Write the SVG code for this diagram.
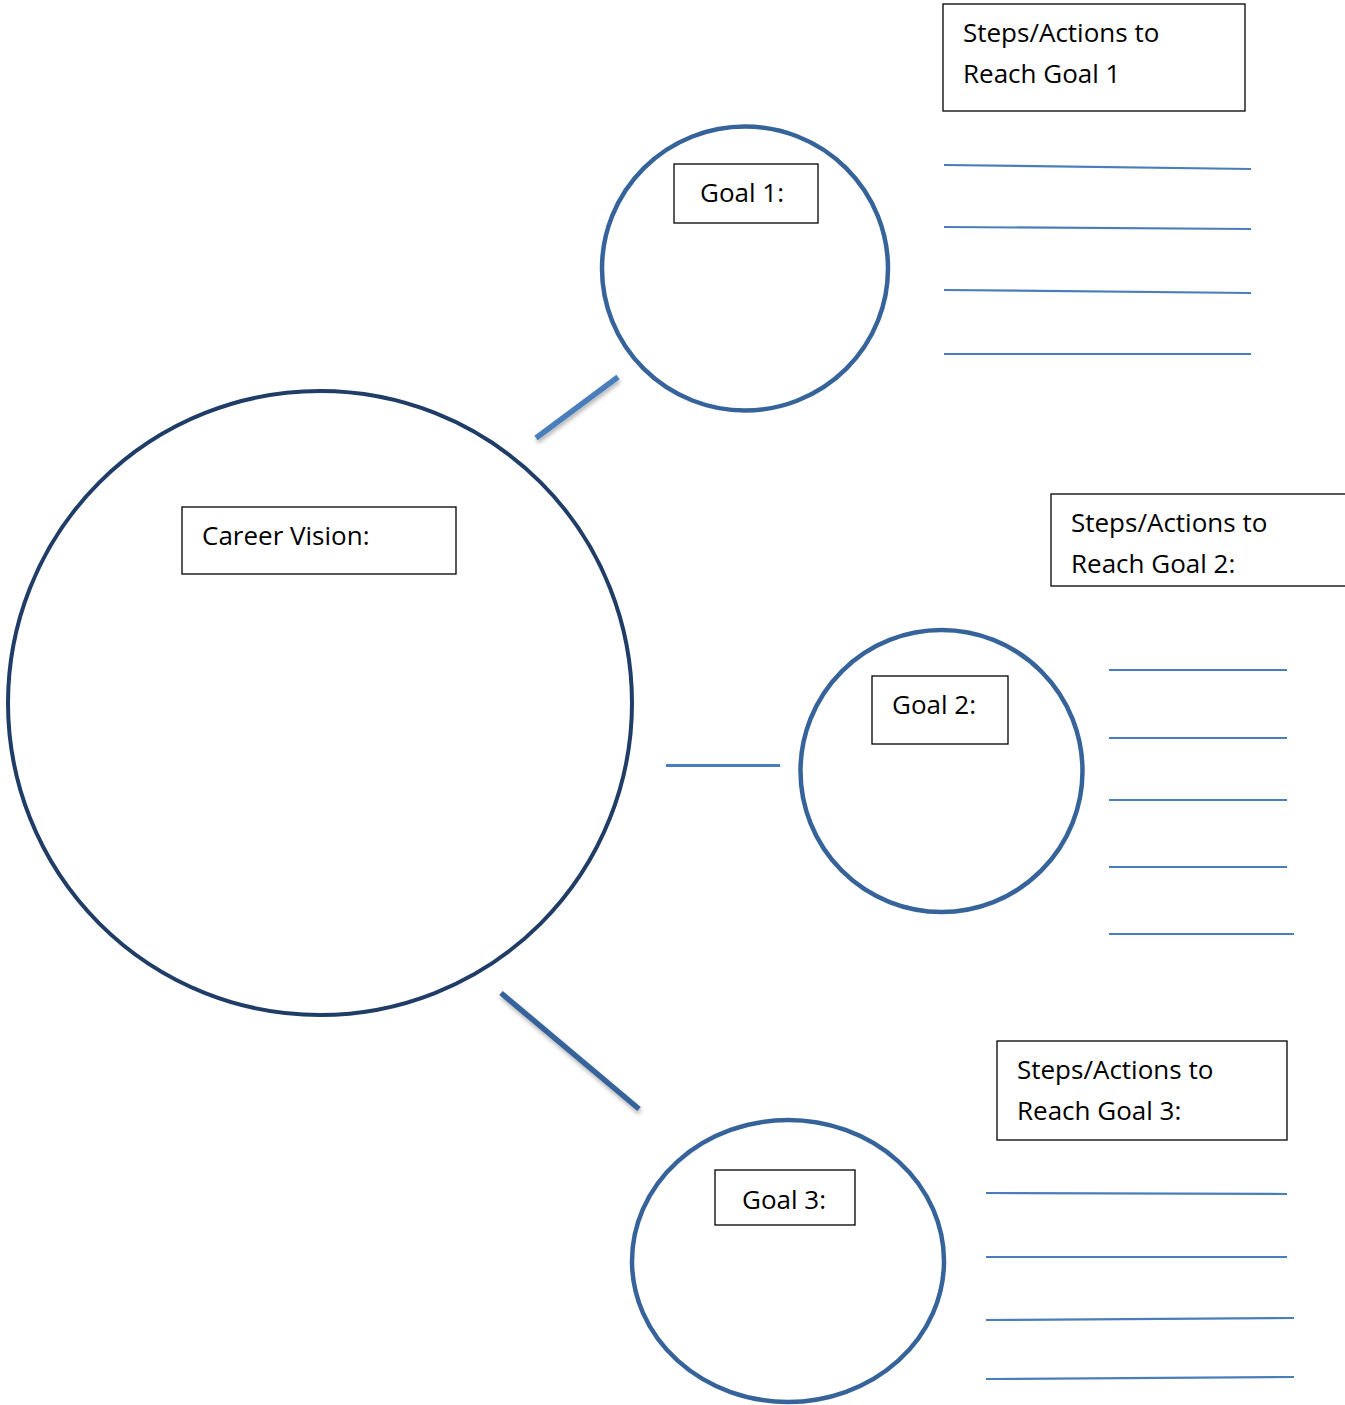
<svg xmlns="http://www.w3.org/2000/svg" width="1345" height="1405" viewBox="0 0 1345 1405">
<defs>
<style>
.lbl{font-family:"Open Sans",Lato,"Liberation Sans",sans-serif;font-size:26px;fill:#000}
.box{fill:#fff;stroke:#000;stroke-width:1.3}
.vision{fill:#fff;stroke:#1F3D66;stroke-width:4}
.goal{fill:#fff;stroke:#36649A;stroke-width:4.5}
.conn{stroke:#4A7EBB;stroke-width:5.5;fill:none;filter:url(#sh)}
.conn3{stroke:#36649A;stroke-width:5.5;fill:none;filter:url(#sh)}
.rule{stroke:#4A7EBB;stroke-width:2.2;fill:none}
</style>
<filter id="sh" x="-20%" y="-20%" width="140%" height="140%">
<feDropShadow dx="1" dy="3" stdDeviation="2" flood-color="#000" flood-opacity="0.3"/>
</filter>
</defs>
<rect width="1345" height="1405" fill="#fff"/>
<g id="connectors">
<line class="conn" x1="536" y1="438" x2="618" y2="377"/>
<line class="conn" x1="666" y1="765" x2="780" y2="766"/>
<line class="conn3" x1="501" y1="993" x2="639" y2="1109"/>
</g>
<g id="vision">
<circle class="vision" cx="320" cy="703" r="312"/>
<rect class="box" x="182" y="507" width="274" height="67"/>
<text class="lbl" x="202" y="545">Career Vision:</text>
</g>
<g id="goal1">
<ellipse class="goal" cx="745" cy="268.5" rx="143" ry="142"/>
<rect class="box" x="674" y="164" width="144" height="59"/>
<text class="lbl" x="700" y="202">Goal 1:</text>
</g>
<g id="goal2">
<circle class="goal" cx="941.5" cy="771" r="141"/>
<rect class="box" x="872" y="676" width="136" height="68"/>
<text class="lbl" x="892" y="714">Goal 2:</text>
</g>
<g id="goal3">
<ellipse class="goal" cx="788" cy="1261" rx="156" ry="141"/>
<rect class="box" x="715" y="1170" width="140" height="55"/>
<text class="lbl" x="742" y="1209">Goal 3:</text>
</g>
<g id="steps1">
<rect class="box" x="943" y="4" width="302" height="107"/>
<text class="lbl" x="963" y="42">Steps/Actions to</text>
<text class="lbl" x="963" y="83">Reach Goal 1</text>
<line class="rule" x1="944" y1="165" x2="1251" y2="169"/>
<line class="rule" x1="944" y1="227" x2="1251" y2="229"/>
<line class="rule" x1="944" y1="290" x2="1251" y2="293"/>
<line class="rule" x1="944" y1="354" x2="1251" y2="354"/>
</g>
<g id="steps2">
<rect class="box" x="1051" y="494" width="296" height="92"/>
<text class="lbl" x="1071" y="532">Steps/Actions to</text>
<text class="lbl" x="1071" y="573">Reach Goal 2:</text>
<line class="rule" x1="1109" y1="670" x2="1287" y2="670"/>
<line class="rule" x1="1109" y1="738" x2="1287" y2="738"/>
<line class="rule" x1="1109" y1="800" x2="1287" y2="800"/>
<line class="rule" x1="1109" y1="867" x2="1287" y2="867"/>
<line class="rule" x1="1109" y1="934" x2="1294" y2="934"/>
</g>
<g id="steps3">
<rect class="box" x="997" y="1041" width="290" height="99"/>
<text class="lbl" x="1017" y="1079">Steps/Actions to</text>
<text class="lbl" x="1017" y="1120">Reach Goal 3:</text>
<line class="rule" x1="986" y1="1193" x2="1287" y2="1194"/>
<line class="rule" x1="986" y1="1257" x2="1287" y2="1257"/>
<line class="rule" x1="986" y1="1320" x2="1294" y2="1318"/>
<line class="rule" x1="986" y1="1379" x2="1294" y2="1377"/>
</g>
</svg>
